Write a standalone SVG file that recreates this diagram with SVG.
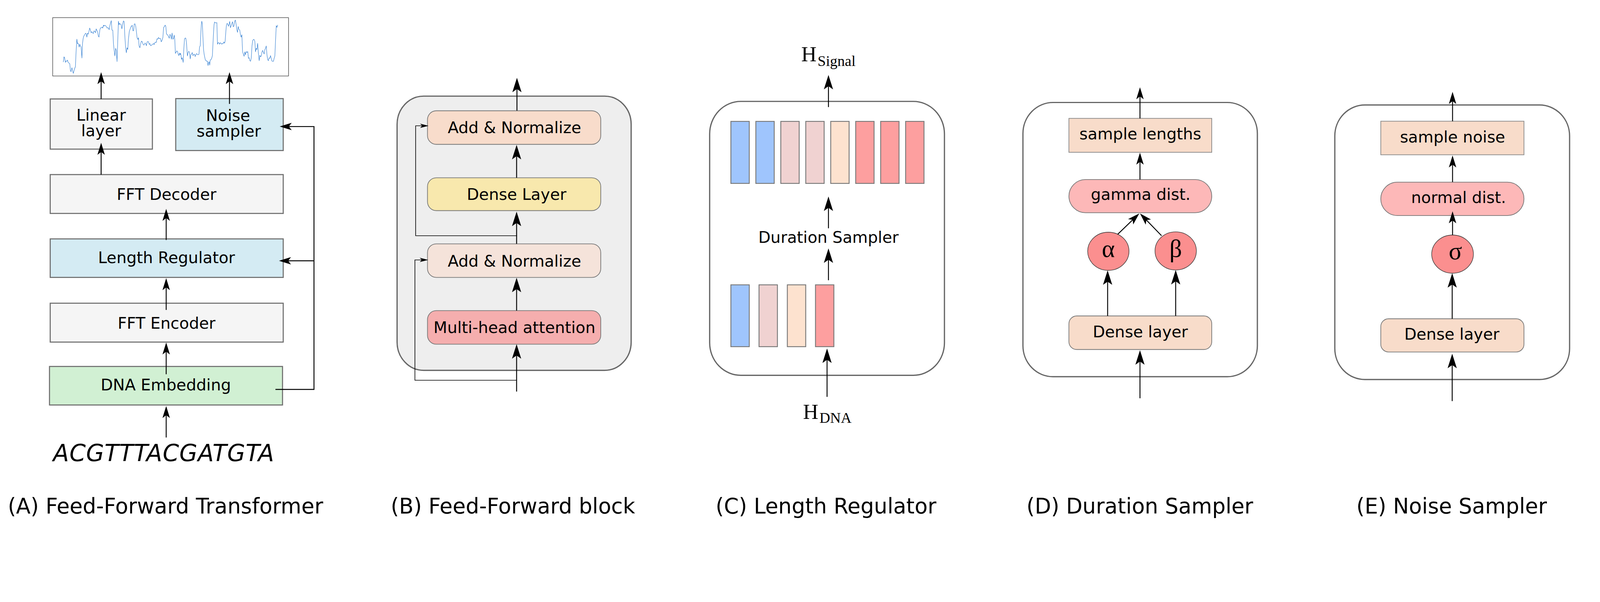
<svg xmlns="http://www.w3.org/2000/svg" width="4525" height="1542" viewBox="0 0 4525 1542" preserveAspectRatio="xMinYMin meet">
<style>
svg{width:100vw;height:100vh}
text{font-family:"DejaVu Sans","Liberation Sans",sans-serif;fill:#000}
.t45{font-size:45px;text-anchor:middle}
.title{font-size:60px}
.serif{font-family:"Liberation Serif","DejaVu Serif",serif}
.lbox{stroke:#6e6e6e;stroke-width:3}
.node{stroke:#777;stroke-width:2}
.cont{stroke:#666;stroke-width:3.5}
.bar{stroke:#777;stroke-width:2.5}
.ell{stroke:#333;stroke-width:1.5;fill:#fb8f8f}
.ln{fill:none;stroke:#000;stroke-width:2.6}
.thin{fill:none;stroke:#000;stroke-width:1.8}
.gray{fill:#f5f5f5}.blue{fill:#d4ebf3}.green{fill:#d1f0d3}
.peach{fill:#f8dcca}
</style>
<defs>
<marker id="mBig" markerUnits="userSpaceOnUse" orient="auto" overflow="visible" markerWidth="1" markerHeight="1" refX="0" refY="0"><path d="M8,0 L-33,-13 L-24,0 L-33,13 Z" fill="#000"/></marker>
<marker id="mMed" markerUnits="userSpaceOnUse" orient="auto" overflow="visible" markerWidth="1" markerHeight="1" refX="0" refY="0"><path d="M8,0 L-26,-10.5 L-18,0 L-26,10.5 Z" fill="#000"/></marker>
<marker id="mSm" markerUnits="userSpaceOnUse" orient="auto" overflow="visible" markerWidth="1" markerHeight="1" refX="0" refY="0"><path d="M4,0 L-20,-6 L-14,0 L-20,6 Z" fill="#000"/></marker>
</defs>
<rect width="4525" height="1542" fill="#fff"/>

<!-- Panel A -->
<g id="signal-plot">
<rect x="149" y="50" width="667" height="165" fill="#fff" stroke="#444" stroke-width="1.5"/>
<polyline transform="translate(140,40) scale(0.33333)" fill="none" stroke="#2d7bd0" stroke-width="3.6" stroke-linejoin="round" points="117,407 123,362 128,370 135,410 140,397 145,400 150,396 153,390 157,407 162,412 168,418 172,422 178,482 183,488 190,455 196,480 202,503 208,480 214,460 220,445 225,330 232,212 237,250 240,245 244,252 248,262 252,280 257,255 262,270 268,278 275,373 280,250 285,210 290,188 296,178 301,170 306,162 312,168 317,195 322,162 328,170 334,150 341,118 347,135 353,158 358,150 364,155 371,165 377,143 384,145 390,158 396,125 402,138 408,150 414,185 420,195 427,135 432,118 440,115 446,110 452,118 458,93 462,102 468,95 475,98 482,105 488,118 495,115 500,118 506,132 512,98 518,75 524,55 530,135 537,138 543,255 549,310 555,355 561,290 567,310 573,403 580,200 585,60 590,90 595,78 600,85 607,88 614,125 620,90 627,58 633,62 640,200 646,285 652,328 658,285 664,300 670,210 677,148 683,130 690,110 697,100 702,95 708,142 714,140 719,85 725,82 731,100 737,145 743,200 750,215 755,200 760,270 767,285 773,255 779,230 786,232 792,250 798,262 804,260 810,245 816,250 822,268 828,238 834,232 840,235 846,257 852,250 858,268 864,265 870,260 876,255 882,250 888,258 894,242 900,238 906,240 912,210 918,212 924,198 930,208 936,205 942,208 948,235 955,222 962,198 968,115 975,105 981,93 987,105 993,170 998,172 1004,180 1010,190 1016,205 1022,172 1028,180 1034,213 1040,160 1046,212 1052,210 1058,178 1063,215"/>
<polyline transform="translate(470,40) scale(0.33333)" fill="none" stroke="#2d7bd0" stroke-width="3.6" stroke-linejoin="round" points="73,215 78,333 85,322 90,312 96,318 102,340 108,352 113,330 118,345 122,332 126,350 130,385 135,370 140,385 144,410 150,290 155,215 160,203 166,203 172,240 176,300 180,355 186,325 192,316 198,325 204,380 209,345 215,340 221,326 227,352 233,344 240,340 246,360 252,343 258,335 264,342 272,345 278,340 283,280 289,268 294,160 298,90 302,60 307,85 312,200 317,300 322,340 327,365 333,392 340,394 346,402 350,400 355,437 360,410 365,405 369,433 374,388 380,387 386,375 392,352 397,250 402,155 406,90 411,67 417,73 424,74 430,72 435,255 441,242 447,242 453,255 459,243 465,246 471,255 477,250 483,250 489,236 495,247 500,230 506,150 511,95 517,78 523,85 528,103 534,85 539,62 545,115 551,100 557,80 563,65 569,108 575,100 581,62 587,50 593,85 599,130 605,155 611,105 617,130 624,135 630,175 636,195 642,175 648,318 655,340 661,358 667,320 673,345 679,318 685,325 692,318 698,375 704,370 710,395 716,400 722,370 728,270 734,225 740,215 746,215 752,230 758,320 764,290 770,300 776,248 782,330 789,395 795,350 801,362 807,355 813,320 819,308 825,325 831,338 837,302 843,290 849,270 855,345 861,385 867,395 873,372 879,375 885,352 891,375 897,398 904,400 910,400 916,375 922,355 928,220 934,98 940,112 946,92"/>
</g>
<g id="linear-layer"><rect class="lbox gray" x="142" y="280" width="289" height="142"/><text class="t45" x="286" y="341">Linear</text><text class="t45" x="286" y="386">layer</text></g>
<g id="noise-sampler-a"><rect class="lbox blue" x="497" y="279" width="304" height="147"/><text class="t45" x="645" y="342">Noise</text><text class="t45" x="647" y="387">sampler</text></g>
<g id="fft-decoder"><rect class="lbox gray" x="142" y="494" width="659" height="110"/><text class="t45" x="471" y="566">FFT Decoder</text></g>
<g id="length-regulator-a"><rect class="lbox blue" x="142" y="676" width="659" height="109"/><text class="t45" x="471" y="745">Length Regulator</text></g>
<g id="fft-encoder"><rect class="lbox gray" x="142" y="858" width="659" height="110"/><text class="t45" x="471" y="930">FFT Encoder</text></g>
<g id="dna-embedding"><rect class="lbox green" x="140" y="1037" width="659" height="109"/><text class="t45" x="469" y="1105">DNA Embedding</text></g>
<g id="dna-seq"><text x="150" y="1305" font-size="66" font-style="italic" textLength="625" lengthAdjust="spacing">ACGTTTACGATGTA</text></g>
<g id="title-a"><text class="title" x="22" y="1453">(A) Feed-Forward Transformer</text></g>

<!-- Panel B -->
<g id="ff-block"><rect class="cont" x="1123" y="272" width="662" height="776" rx="75" ry="80" fill="#eeeeee"/></g>
<g id="add-norm-2"><rect class="node" x="1209" y="313.5" width="490" height="95" rx="25" fill="#f8dccb"/><text class="t45" x="1455" y="377">Add &amp; Normalize</text></g>
<g id="dense-b"><rect class="node" x="1209" y="503" width="490" height="93" rx="25" fill="#f8e8ad"/><text class="t45" x="1461" y="566">Dense Layer</text></g>
<g id="add-norm-1"><rect class="node" x="1209" y="690" width="490" height="95" rx="25" fill="#f5e3da"/><text class="t45" x="1455" y="754">Add &amp; Normalize</text></g>
<g id="mha"><rect class="node" x="1209" y="879" width="490" height="95" rx="25" fill="#f5aeae"/><text class="t45" x="1455" y="942">Multi-head attention</text></g>
<g id="title-b"><text class="title" x="1105" y="1453">(B) Feed-Forward block</text></g>

<!-- Panel C -->
<g id="h-signal"><text class="serif" x="2266" y="173" font-size="60">H<tspan dx="3" dy="13.5" font-size="42">Signal</tspan></text></g>
<g id="length-regulator-c"><rect class="cont" x="2007" y="287" width="664" height="775" rx="88" ry="92" fill="#fff"/></g>
<g id="bars-out">
<rect class="bar" x="2067" y="343.5" width="52" height="175.5" fill="#9fc5fd"/>
<rect class="bar" x="2137.6" y="343.5" width="52" height="175.5" fill="#9fc5fd"/>
<rect class="bar" x="2208.2" y="343.5" width="52" height="175.5" fill="#f0d2d1"/>
<rect class="bar" x="2278.8" y="343.5" width="52" height="175.5" fill="#f0d2d1"/>
<rect class="bar" x="2349.4" y="343.5" width="52" height="175.5" fill="#fde2cf"/>
<rect class="bar" x="2420" y="343.5" width="52" height="175.5" fill="#fd9f9f"/>
<rect class="bar" x="2490.6" y="343.5" width="52" height="175.5" fill="#fd9f9f"/>
<rect class="bar" x="2561.2" y="343.5" width="52" height="175.5" fill="#fd9f9f"/>
</g>
<g id="duration-label"><text class="t45" x="2343" y="687">Duration Sampler</text></g>
<g id="bars-in">
<rect class="bar" x="2067" y="806" width="52" height="175" fill="#9fc5fd"/>
<rect class="bar" x="2146.6" y="806" width="52" height="175" fill="#f0d2d1"/>
<rect class="bar" x="2226.7" y="806" width="52" height="175" fill="#fde2cf"/>
<rect class="bar" x="2306.3" y="806" width="52" height="175" fill="#fd9f9f"/>
</g>
<g id="h-dna"><text class="serif" x="2271" y="1185.5" font-size="60">H<tspan dx="3" dy="11" font-size="42">DNA</tspan></text></g>
<g id="title-c"><text class="title" x="2024" y="1453">(C) Length Regulator</text></g>

<!-- Panel D -->
<g id="duration-sampler"><rect class="cont" x="2893" y="290" width="663" height="776" rx="85" ry="88" fill="#fff"/></g>
<g id="sample-lengths"><rect x="3023" y="335" width="404" height="96" fill="#f8dcca" stroke="#888" stroke-width="2"/><text class="t45" x="3225" y="394">sample lengths</text></g>
<g id="gamma"><rect x="3023" y="508" width="404" height="94" rx="47" fill="#fdb8b8" stroke="#777" stroke-width="2"/><text class="t45" x="3226" y="566">gamma dist.</text></g>
<g id="alpha"><ellipse class="ell" cx="3134.5" cy="711" rx="58.5" ry="54"/><text class="serif" x="3134.5" y="727" font-size="70" text-anchor="middle">α</text></g>
<g id="beta"><ellipse class="ell" cx="3325" cy="710" rx="58.5" ry="54"/><text class="serif" x="3325" y="727" font-size="70" text-anchor="middle">β</text></g>
<g id="dense-d"><rect class="peach" x="3023" y="894" width="404" height="95" rx="22" stroke="#777" stroke-width="2"/><text class="t45" x="3225" y="955">Dense layer</text></g>
<g id="title-d"><text class="title" x="2903" y="1453">(D) Duration Sampler</text></g>

<!-- Panel E -->
<g id="noise-sampler-e"><rect class="cont" x="3775" y="297" width="664" height="777" rx="85" ry="88" fill="#fff"/></g>
<g id="sample-noise"><rect x="3905" y="343" width="405" height="95" fill="#f8dcca" stroke="#888" stroke-width="2"/><text class="t45" x="4108" y="403">sample noise</text></g>
<g id="normal"><rect x="3905" y="515.5" width="405" height="94.5" rx="47" fill="#fdb8b8" stroke="#777" stroke-width="2"/><text class="t45" x="4125" y="575">normal dist.</text></g>
<g id="sigma"><ellipse class="ell" cx="4108" cy="719" rx="59" ry="54"/><text class="serif" x="4116" y="733" font-size="70" text-anchor="middle">σ</text></g>
<g id="dense-e"><rect class="peach" x="3905" y="902" width="405" height="94" rx="22" stroke="#777" stroke-width="2"/><text class="t45" x="4106" y="961">Dense layer</text></g>
<g id="title-e"><text class="title" x="3836" y="1453">(E) Noise Sampler</text></g>

<g id="connectors">
<line class="ln" x1="286" y1="280" x2="286" y2="212" marker-end="url(#mMed)"/>
<line class="ln" x1="649" y1="294" x2="649" y2="212" marker-end="url(#mMed)"/>
<line class="ln" x1="286" y1="494" x2="286" y2="412" marker-end="url(#mMed)"/>
<line class="ln" x1="470" y1="679" x2="470" y2="599" marker-end="url(#mMed)"/>
<line class="ln" x1="470" y1="877" x2="470" y2="795" marker-end="url(#mMed)"/>
<line class="ln" x1="470" y1="1059" x2="470" y2="977" marker-end="url(#mMed)"/>
<line class="ln" x1="470" y1="1238" x2="470" y2="1157" marker-end="url(#mMed)"/>
<polyline class="ln" points="779,1102 888,1102 888,358 799,358" marker-end="url(#mMed)"/>
<line class="ln" x1="888" y1="738" x2="797" y2="738" marker-end="url(#mMed)"/>
<line class="ln" x1="1462" y1="313" x2="1462" y2="228" marker-end="url(#mBig)"/>
<line class="ln" x1="1461" y1="503" x2="1461" y2="418" marker-end="url(#mBig)"/>
<line class="ln" x1="1461" y1="690" x2="1461" y2="607" marker-end="url(#mBig)"/>
<line class="ln" x1="1461" y1="879" x2="1461" y2="794" marker-end="url(#mBig)"/>
<line class="ln" x1="1461" y1="1108" x2="1461" y2="982" marker-end="url(#mBig)"/>
<polyline class="thin" points="1461,1076 1173.5,1076 1173.5,735.5 1207,735.5" marker-end="url(#mSm)"/>
<polyline class="thin" points="1462,667 1175.5,667 1175.5,356 1208,356" marker-end="url(#mSm)"/>
<line class="ln" x1="2343" y1="303" x2="2343" y2="220" marker-end="url(#mBig)"/>
<line class="ln" x1="2343" y1="646" x2="2343" y2="564" marker-end="url(#mBig)"/>
<line class="ln" x1="2343" y1="793" x2="2343" y2="711" marker-end="url(#mBig)"/>
<line class="ln" x1="2339" y1="1123" x2="2339" y2="994" marker-end="url(#mBig)"/>
<line class="ln" x1="3224" y1="335" x2="3224" y2="255" marker-end="url(#mMed)"/>
<line class="ln" x1="3224" y1="508" x2="3224" y2="440" marker-end="url(#mMed)"/>
<line class="ln" x1="3161" y1="663" x2="3216.3" y2="609.6" marker-end="url(#mMed)"/>
<line class="ln" x1="3285" y1="667" x2="3229.6" y2="609.7" marker-end="url(#mMed)"/>
<line class="ln" x1="3132.5" y1="894" x2="3132.5" y2="773" marker-end="url(#mBig)"/>
<line class="ln" x1="3325" y1="894" x2="3325" y2="772" marker-end="url(#mBig)"/>
<line class="ln" x1="3224" y1="1127" x2="3224" y2="999" marker-end="url(#mBig)"/>
<line class="ln" x1="4108" y1="343" x2="4108" y2="268" marker-end="url(#mMed)"/>
<line class="ln" x1="4108" y1="515" x2="4108" y2="448" marker-end="url(#mMed)"/>
<line class="ln" x1="4108" y1="665" x2="4108" y2="606" marker-end="url(#mMed)"/>
<line class="ln" x1="4107" y1="902" x2="4107" y2="781" marker-end="url(#mBig)"/>
<line class="ln" x1="4107" y1="1135" x2="4107" y2="1009" marker-end="url(#mBig)"/>
</g>
</svg>
